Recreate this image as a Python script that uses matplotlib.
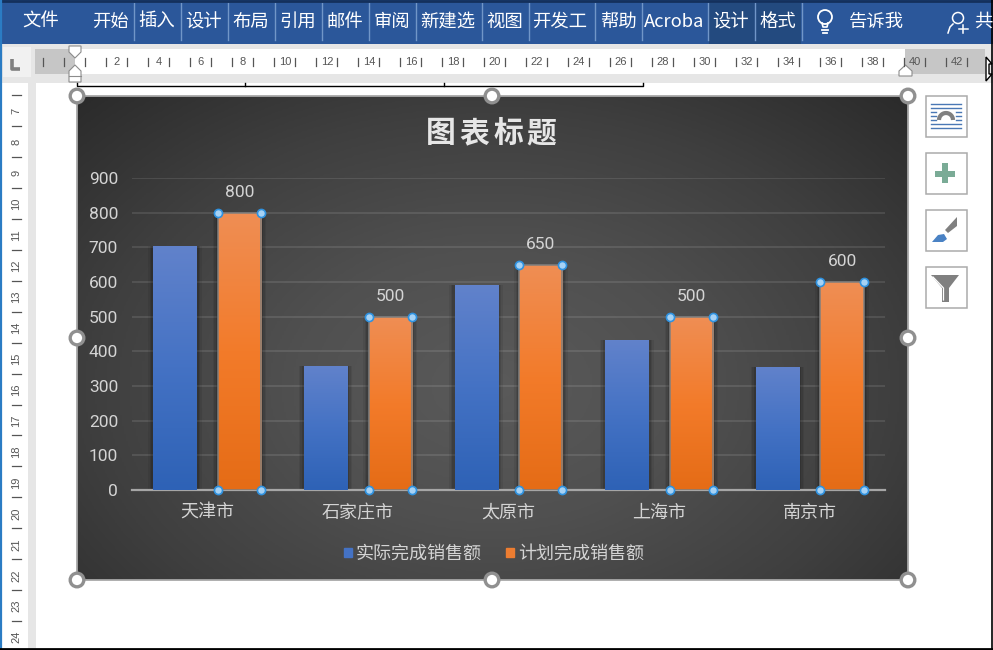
import numpy as np
import matplotlib
matplotlib.use('Agg')
import matplotlib.pyplot as plt
from matplotlib.colors import LinearSegmentedColormap
from matplotlib.patches import Rectangle, Polygon, Circle, Patch

plt.rcParams['font.family'] = ['Noto Sans CJK SC', 'DejaVu Sans']

# chart data
cities = ['天津市', '石家庄市', '太原市', '上海市', '南京市']
actual = [705, 358, 590, 432, 355]
planned = [800, 500, 650, 500, 600]
y_ticks = [0, 100, 200, 300, 400, 500, 600, 700, 800, 900]
series_names = ['实际完成销售额', '计划完成销售额']
chart_title = '图表标题'

# word ribbon text: label, centre x
ribbon_tabs = [('文件', 41), ('开始', 110), ('插入', 157), ('设计', 204), ('布局', 251), ('引用', 298),
               ('邮件', 345), ('审阅', 392), ('新建选', 448), ('视图', 505), ('开发工', 560), ('帮助', 618),
               ('Acroba', 674), ('设计', 731), ('格式', 778), ('告诉我', 876), ('共', 983)]
ribbon_seps = [133, 180, 227, 274, 321, 368, 415, 481, 528, 594, 641, 707, 754, 801]
ruler_numbers = list(range(2, 44, 2))
side_numbers = list(range(7, 25))

W, H = 993, 650
fig = plt.figure(figsize=(W / 100, H / 100), dpi=100)
fig.patch.set_facecolor('white')

# full figure axes in pixels for the word window around the chart
ui = fig.add_axes([0, 0, 1, 1], zorder=0)
ui.set_axis_off()

# ribbon
ui.add_patch(Rectangle((0, 0), W, 44, color='#2B579A', lw=0))
ui.add_patch(Rectangle((709, 3), 92, 41, color='#234A7F', lw=0))
for x in ribbon_seps:
    ui.plot([x + .5, x + .5], [3, 40], color='#7196C8', lw=1)
for label, x in ribbon_tabs:
    ui.text(x, 22, label, color='white', fontsize=13.2, ha='center', va='center')

# light bulb and person icon in ribbon
ui.add_patch(Circle((825, 17), 7, fc='none', ec='white', lw=1.3))
ui.plot([822, 823, 827, 828], [23, 27, 27, 23], color='white', lw=1.2)
ui.plot([822, 828], [30, 30], color='white', lw=1.3)
ui.plot([823, 827], [33, 33], color='white', lw=1.3)
ui.add_patch(Circle((958, 18), 5.5, fc='none', ec='white', lw=1.1))
ui.plot([948, 950, 953], [33, 27, 24], color='white', lw=1.1)
ui.plot([963, 963], [25, 33], color='white', lw=1.1)
ui.plot([959, 968], [29, 29], color='white', lw=1.1)

# horizontal ruler
ui.add_patch(Rectangle((0, 44), W, 39, color='#E6E6E6', lw=0))
ui.add_patch(Rectangle((3, 47), 28, 30, color='#F1F1F1', lw=0))
ui.add_patch(Rectangle((35, 49), 950, 25, color='white', lw=0))
ui.add_patch(Rectangle((35, 49), 40, 25, color='#C6C6C6', lw=0))
ui.add_patch(Rectangle((905, 49), 80, 25, color='#C6C6C6', lw=0))
ui.plot([11.5, 11.5, 20], [59, 68.5, 68.5], color='#7F7F7F', lw=2.6, solid_capstyle='butt')
for x in np.arange(43, 985, 21):
    if abs(x - 75) > 8:
        ui.plot([x, x], [58, 66], color='#555555', lw=.9)
for n in ruler_numbers:
    ui.text(75 + n * 21, 62, str(n), fontsize=8, color='#555555', ha='center', va='center',
            family='Liberation Sans')

# indent markers on ruler
ui.add_patch(Polygon([(69, 46), (81, 46), (81, 52), (75, 58), (69, 52)], fc='white', ec='#8C8C8C', lw=.8))
ui.add_patch(Polygon([(75, 65), (81, 71), (81, 82), (69, 82), (69, 71)], fc='white', ec='#8C8C8C', lw=.8))
ui.plot([69, 81], [76, 76], color='#8C8C8C', lw=.8)
ui.add_patch(Polygon([(905.5, 65), (912, 71), (912, 76), (899, 76), (899, 71)], fc='white', ec='#8C8C8C', lw=.8))

# cursor at ruler end
ui.add_patch(Polygon([(986, 57), (992, 64), (989, 64), (989, 74), (992, 74), (986, 81)],
                     fc='white', ec='black', lw=1))

# vertical ruler
ui.add_patch(Rectangle((28, 83), 8, H - 83, color='#E6E6E6', lw=0))
for n in side_numbers:
    ui.text(16, 111 + (n - 7) * 30.95, str(n), fontsize=8, color='#555555', rotation=90,
            ha='center', va='center', family='Liberation Sans')
    ui.plot([12, 21], [95 + (n - 7) * 30.95] * 2, color='#555555', lw=.9)

# window border
ui.plot([0, W], [1, 1], color='#14305C', lw=2)
ui.plot([.8, .8], [0, H], color='#2B7CC4', lw=1.6)
ui.plot([0, W], [649, 649], color='black', lw=2)
ui.plot([W - 1, W - 1], [0, H], color='black', lw=1.2)

# table bracket above chart
ui.plot([77, 77, 643, 643], [83, 86, 86, 83], color='black', lw=1)
ui.plot([245, 245], [83, 86], color='black', lw=1)
ui.plot([444, 444], [83, 86], color='black', lw=1)

# chart area background, radial
yy, xx = np.mgrid[0:1:240j, 0:1:400j]
r = np.sqrt(((xx - .5) / .72) ** 2 + ((yy - .6) / .85) ** 2)
bg_cmap = LinearSegmentedColormap.from_list('bg', ['#5A5A5A', '#505050', '#3F3F3F', '#2A2A2A'])
ui.imshow(np.clip(r, 0, 1), cmap=bg_cmap, vmin=0, vmax=1, extent=(77, 908, 580, 96),
          aspect='auto', interpolation='bilinear', zorder=1)
ui.add_patch(Rectangle((77, 96), 831, 484, fc='none', ec='#A8A8A8', lw=1.3, zorder=2))

# sizing handles
for hx, hy in [(77, 96), (492, 96), (908, 96), (77, 338), (908, 338), (77, 580), (492, 580), (908, 580)]:
    ui.add_patch(Circle((hx, hy), 6.8, fc='white', ec='#909090', lw=2.4, zorder=3))

# side buttons
for top in [95, 152, 209, 266]:
    ui.add_patch(Rectangle((925.5, top + .5), 41, 41, fc='white', ec='#ABABAB', lw=1.1, zorder=3))
for y in [103.5, 107.5, 123.5, 127.5]:
    ui.plot([931, 961], [y, y], color='#4A78B5', lw=1, zorder=4)
for y in [111.5, 115.5, 119.5]:
    ui.plot([931, 936], [y, y], color='#4A78B5', lw=1, zorder=4)
    ui.plot([956, 961], [y, y], color='#4A78B5', lw=1, zorder=4)
theta = np.linspace(np.pi, 2 * np.pi, 20)
ui.plot(946 + 7 * np.cos(theta), 120 + 7 * np.sin(theta), color='#808080', lw=3, zorder=4,
        solid_capstyle='butt')
ui.add_patch(Rectangle((935, 170.5), 20, 6, color='#7AAB96', lw=0, zorder=4))
ui.add_patch(Rectangle((942, 163), 6, 20, color='#7AAB96', lw=0, zorder=4))
ui.add_patch(Polygon([(957, 217), (957, 226), (948, 233), (945, 230)], color='#808080', lw=0, zorder=4))
ui.add_patch(Polygon([(932, 242), (938, 235), (944, 234), (947, 239), (943, 242)], color='#4A82C4', lw=0, zorder=4))
ui.add_patch(Polygon([(931, 275), (959, 275), (949, 288), (949, 302), (942, 302), (942, 288)],
                     color='#808080', lw=0, zorder=4))
ui.plot([933, 943.5, 943.5], [277, 288, 300], color='white', lw=.9, zorder=5)
ui.set_xlim(0, W)
ui.set_ylim(H, 0)

# the chart itself
ax = fig.add_axes([132 / W, 1 - 490 / H, (885 - 132) / W, (490 - 178) / H], zorder=1)
ax.patch.set_alpha(0)
x = np.arange(len(cities))
bar_w = 0.286
offset = 0.2145

# soft shadows behind bars
for extra, alpha in [(0.07, .07), (0.05, .09), (0.03, .12)]:
    ax.bar(x - offset, actual, bar_w + extra, color='black', alpha=alpha, lw=0, zorder=2)
    ax.bar(x + offset, planned, bar_w + extra, color='black', alpha=alpha, lw=0, zorder=2)

blue_bars = ax.bar(x - offset, actual, bar_w, color='none', zorder=3)
orange_bars = ax.bar(x + offset, planned, bar_w, color='none', edgecolor='#7F7F7F', lw=1.1, zorder=3.5)

blue_cmap = LinearSegmentedColormap.from_list('b', ['#6182CB', '#4472C4', '#2E62B6'])
orange_cmap = LinearSegmentedColormap.from_list('o', ['#EF8E54', '#F37B2A', '#E56C16'])
grad = np.linspace(0, 1, 128).reshape(-1, 1)
for bars, cmap in [(blue_bars, blue_cmap), (orange_bars, orange_cmap)]:
    for b in bars:
        im = ax.imshow(grad, cmap=cmap, aspect='auto', zorder=3,
                       extent=(b.get_x(), b.get_x() + b.get_width(), 0, b.get_height()))
        im.set_clip_path(b)

ax.set_xlim(-0.5, 4.5)
ax.set_ylim(0, 900)
ax.set_xticks(x, cities)
ax.set_yticks(y_ticks)
ax.tick_params(axis='both', length=0)
ax.tick_params(axis='y', pad=10, labelsize=12.5, labelcolor='#D4D4D4')
ax.tick_params(axis='x', pad=10, labelsize=13, labelcolor='#D4D4D4')
for lab in ax.get_yticklabels():
    lab.set_family('Roboto')
ax.grid(axis='y', color='white', alpha=.1, lw=1.5, zorder=1)
ax.set_axisbelow(True)
for s in ['top', 'left', 'right']:
    ax.spines[s].set_visible(False)
ax.spines['bottom'].set_color('#A6A6A6')
ax.spines['bottom'].set_linewidth(1.6)
ax.spines['bottom'].set_zorder(2.5)

# labels only on planned series
for b, v in zip(orange_bars, planned):
    ax.annotate(str(v), (b.get_x() + b.get_width() / 2, v), xytext=(0, 9), textcoords='offset points',
                ha='center', va='bottom', color='#D4D4D4', fontsize=12.5, family='Roboto')

# selection dots on planned bar corners
for b in orange_bars:
    px = [b.get_x(), b.get_x() + b.get_width()] * 2
    py = [b.get_height()] * 2 + [0, 0]
    ax.scatter(px, py, s=34, color='#A6D2F5', edgecolor='#2F92E0', linewidth=1.2, zorder=6, clip_on=False)

# legend
handles = [Patch(color='#4472C4'), Patch(color='#ED7D31')]
leg = ax.legend(handles, series_names, loc='center', bbox_to_anchor=(494 / W, 1 - 554 / H),
                bbox_transform=fig.transFigure, ncol=2, frameon=False, fontsize=13,
                labelcolor='#D4D4D4', handlelength=.45, handleheight=.45, handletextpad=.2,
                columnspacing=1.35)

# title, chars spaced out like the original
for i, ch in enumerate(chart_title):
    ui.text(441 + 33.5 * i, 133, ch, fontsize=21.5, fontweight='bold', color='#E6E6E6',
            ha='center', va='center', zorder=5)

fig.savefig('out.png', dpi=100)
